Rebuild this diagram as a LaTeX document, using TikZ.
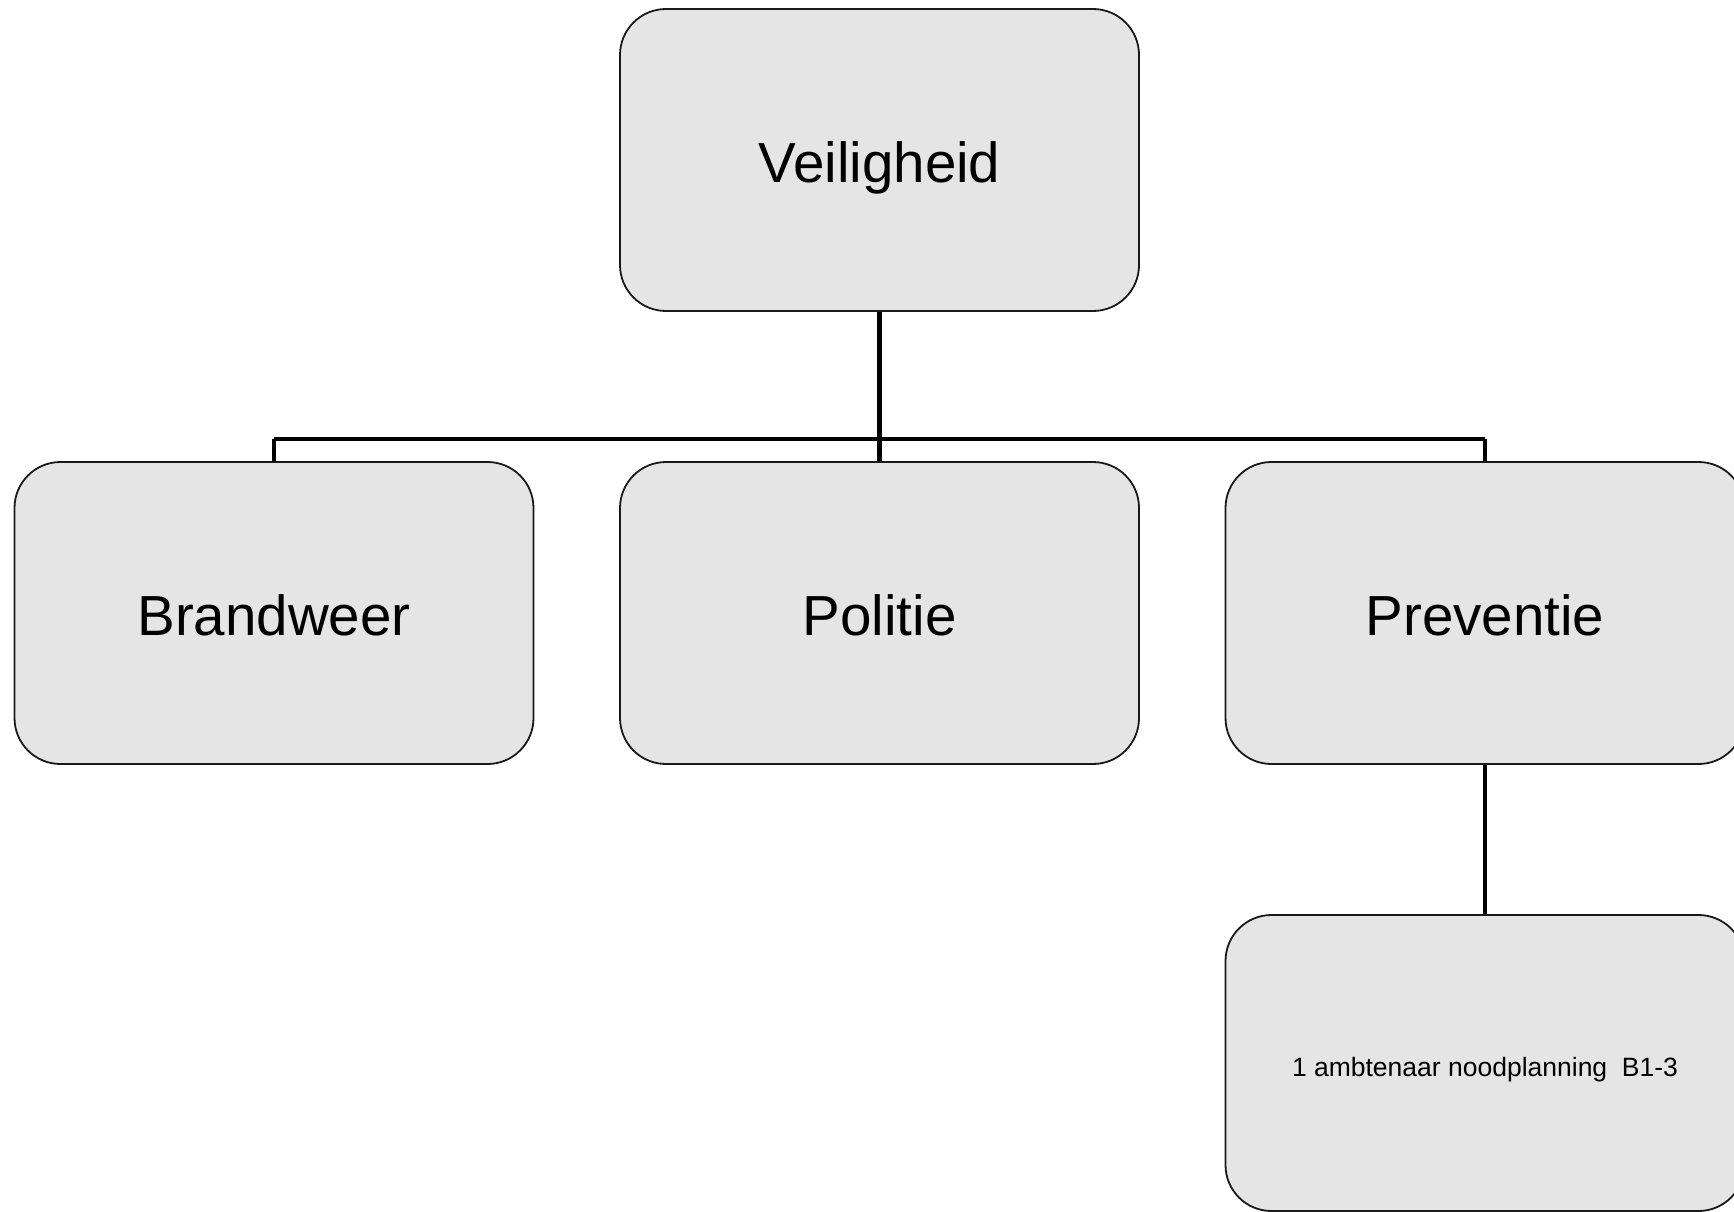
\documentclass[tikz,border=0pt]{standalone}
\usepackage{fontspec}
\setmainfont{Liberation Sans}
\begin{document}
\begin{tikzpicture}[x=1pt,y=-1pt,
  orgbox/.style={draw=black!90,line width=1.8pt,fill=black!10,rounded corners=46pt,
    minimum width=519pt,minimum height=302pt,inner sep=0pt,
    text height=45pt,text depth=0pt,font=\fontsize{56.5}{60}\selectfont},
  smallbox/.style={orgbox,minimum height=296pt,text height=27.3pt,font=\fontsize{26.5}{30}\selectfont},
  conn/.style={draw=black,line width=4.5pt}]
\path[use as bounding box] (0,0) rectangle (1734,1212);
\fill[white] (0,0) rectangle (1734,1212);
\begin{scope}
\clip (0,0) rectangle (1734,1212);
\coordinate (bar) at (879,439);
\draw[conn] (274,439) -- (1485,439);
\node[orgbox] (veil) at (879.5,160) {Veiligheid};
\node[orgbox] (brand) at (274,613) {Brandweer};
\node[orgbox] (pol) at (879.5,613) {Politie};
\node[orgbox] (prev) at (1485,613) {Preventie};
\node[smallbox] (amb) at (1485,1063) {1 ambtenaar noodplanning\ \ B1-3};
\draw[conn] (veil.south) -- (pol.north);
\draw[conn] (brand.north) -- (brand.north |- bar);
\draw[conn] (prev.north) -- (prev.north |- bar);
\draw[conn] (prev.south) -- (amb.north);
\end{scope}
\end{tikzpicture}
\end{document}
